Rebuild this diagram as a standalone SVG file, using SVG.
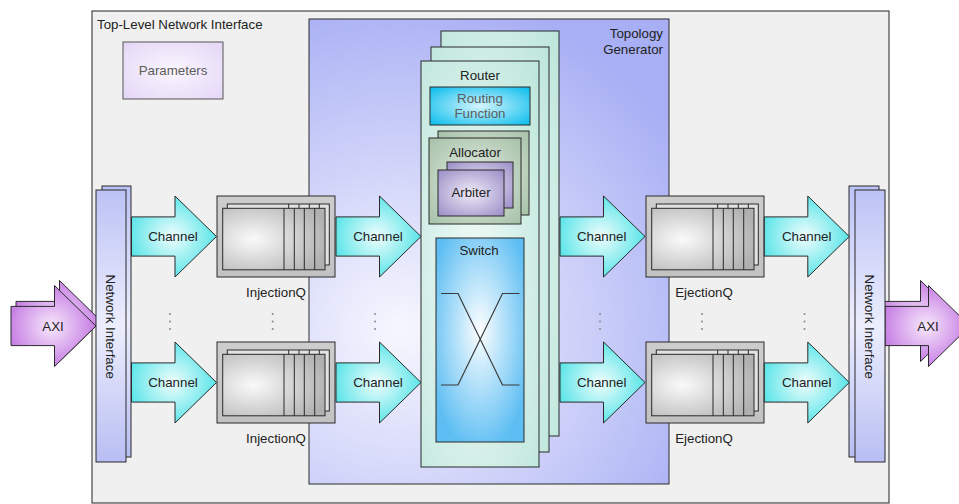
<svg xmlns="http://www.w3.org/2000/svg" xmlns:xlink="http://www.w3.org/1999/xlink" width="959" height="504" viewBox="0 0 959 504">
  <style>
    .lbl { font-family: "Liberation Sans", Arial, sans-serif; font-size: 13.3px; fill: #222; text-anchor: middle; }
    .gray { fill: #5c5c5c; }
    .edge { stroke: #2a2a2a; stroke-width: 1; }
    .dot { fill: #8a8a8a; }
    .xline { fill: none; stroke: #3a3a3a; stroke-width: 1.2; }
  </style>
  <defs>
    <radialGradient id="gParam" cx="0.5" cy="0.5" r="0.7">
      <stop offset="0" stop-color="#faf6fe"/>
      <stop offset="1" stop-color="#e4d6f6"/>
    </radialGradient>
    <radialGradient id="gTopo" gradientUnits="userSpaceOnUse" cx="400" cy="330" r="340">
      <stop offset="0" stop-color="#f7f7fe"/>
      <stop offset="1" stop-color="#a8aff4"/>
    </radialGradient>
    <radialGradient id="gRouter" cx="0.45" cy="0.55" r="0.8">
      <stop offset="0" stop-color="#f2fbf8"/>
      <stop offset="1" stop-color="#bbe5da"/>
    </radialGradient>
    <radialGradient id="gRF" cx="0.5" cy="0.5" r="0.65">
      <stop offset="0" stop-color="#d4f4fc"/>
      <stop offset="1" stop-color="#14c0ee"/>
    </radialGradient>
    <radialGradient id="gAlloc" cx="0.5" cy="0.5" r="0.7">
      <stop offset="0" stop-color="#e4ede4"/>
      <stop offset="1" stop-color="#a6c1a8"/>
    </radialGradient>
    <radialGradient id="gArb" cx="0.5" cy="0.5" r="0.7">
      <stop offset="0" stop-color="#eeebf7"/>
      <stop offset="1" stop-color="#998dc6"/>
    </radialGradient>
    <radialGradient id="gSwitch" cx="0.5" cy="0.45" r="0.6">
      <stop offset="0" stop-color="#fcfeff"/>
      <stop offset="1" stop-color="#5ebef3"/>
    </radialGradient>
    <radialGradient id="gChan" cx="0.48" cy="0.5" r="0.6">
      <stop offset="0" stop-color="#f0fdfd"/>
      <stop offset="1" stop-color="#43e1e5"/>
    </radialGradient>
    <radialGradient id="gAxi" cx="0.48" cy="0.5" r="0.6">
      <stop offset="0" stop-color="#f7e8fc"/>
      <stop offset="1" stop-color="#bd6bdf"/>
    </radialGradient>
    <linearGradient id="gNI" x1="0" y1="0" x2="0" y2="1">
      <stop offset="0" stop-color="#bcc2f5"/>
      <stop offset="0.5" stop-color="#eceefd"/>
      <stop offset="1" stop-color="#b8bef3"/>
    </linearGradient>
    <radialGradient id="gQFront" cx="0.3" cy="0.5" r="0.75">
      <stop offset="0" stop-color="#fafafa"/>
      <stop offset="1" stop-color="#b0b0b0"/>
    </radialGradient>
    <linearGradient id="gQOuter" x1="0" y1="0" x2="0" y2="1">
      <stop offset="0" stop-color="#cdcdcd"/>
      <stop offset="1" stop-color="#c2c2c2"/>
    </linearGradient>

    <!-- block arrow: body 0..43.5, head to 85, centred on y=0 -->
    <path id="blockArrow" d="M0,-19.6 H43.5 V-40.5 L85,0 L43.5,40.5 V19.6 H0 Z"/>

    <!-- queue buffer symbol, origin at outer top-left -->
    <g id="queue">
      <rect x="0" y="0" width="118" height="81" fill="url(#gQOuter)" class="edge"/>
      <rect x="10.3" y="8" width="102" height="61" fill="#e2e2e2" class="edge"/>
      <path d="M71.7,8 V20 M82,8 V20 M92.3,8 V20 M102.3,8 V20" class="edge" fill="none"/>
      <rect x="5.7" y="12.3" width="102.3" height="61.5" fill="url(#gQFront)" class="edge"/>
      <path d="M67,12.3 V73.8 M77.3,12.3 V73.8 M87.3,12.3 V73.8 M97.7,12.3 V73.8" class="edge" fill="none"/>
    </g>
  </defs>

  <!-- enclosing network interface frame -->
  <g id="top-level">
    <rect x="92" y="11" width="797" height="492" fill="#f0f0f0" stroke="#222" stroke-width="1"/>
    <text class="lbl" x="97" y="29" style="text-anchor:start">Top-Level Network Interface</text>
  </g>

  <g id="parameters">
    <rect x="123" y="42" width="100" height="57" fill="url(#gParam)" stroke="#555" stroke-width="1"/>
    <text class="lbl gray" x="173" y="75">Parameters</text>
  </g>

  <g id="topology-generator">
    <rect x="309" y="19" width="360" height="465" fill="url(#gTopo)" class="edge"/>
    <text class="lbl" x="663" y="38" style="text-anchor:end">Topology</text>
    <text class="lbl" x="663" y="54" style="text-anchor:end">Generator</text>
  </g>

  <g id="router">
    <rect x="441" y="31" width="118" height="405" fill="url(#gRouter)" class="edge"/>
    <rect x="431" y="47" width="118" height="405" fill="url(#gRouter)" class="edge"/>
    <rect x="421" y="61" width="118" height="406" fill="url(#gRouter)" class="edge"/>
    <text class="lbl" x="480" y="80">Router</text>
  </g>

  <g id="routing-function">
    <rect x="430" y="87" width="100" height="38" fill="url(#gRF)" class="edge"/>
    <text class="lbl gray" x="480" y="103">Routing</text>
    <text class="lbl gray" x="480" y="118">Function</text>
  </g>

  <g id="allocator">
    <rect x="438" y="131" width="91" height="84" fill="url(#gAlloc)" class="edge"/>
    <rect x="429" y="138" width="92" height="86" fill="url(#gAlloc)" class="edge"/>
    <text class="lbl" x="475" y="157">Allocator</text>
  </g>

  <g id="arbiter">
    <rect x="447" y="162" width="66" height="46" fill="url(#gArb)" class="edge"/>
    <rect x="438" y="170" width="66" height="46" fill="url(#gArb)" class="edge"/>
    <text class="lbl" x="471" y="197">Arbiter</text>
  </g>

  <g id="switch">
    <rect x="436" y="238" width="88" height="204" fill="url(#gSwitch)" class="edge"/>
    <text class="lbl" x="479" y="255">Switch</text>
    <path class="xline" d="M441,293.5 H458 L502.5,385 H519.5"/>
    <path class="xline" d="M441,385 H458 L502.5,293.5 H519.5"/>
  </g>

  <!-- AXI ports (drawn under the network interface blocks) -->
  <g id="axi-in">
    <use xlink:href="#blockArrow" href="#blockArrow" transform="translate(16,321)" fill="url(#gAxi)" class="edge"/>
    <use xlink:href="#blockArrow" href="#blockArrow" transform="translate(11,326)" fill="url(#gAxi)" class="edge"/>
    <text class="lbl" x="53" y="331">AXI</text>
  </g>
  <g id="axi-out">
    <use xlink:href="#blockArrow" href="#blockArrow" transform="translate(877,321)" fill="url(#gAxi)" class="edge"/>
    <use xlink:href="#blockArrow" href="#blockArrow" transform="translate(885,326)" fill="url(#gAxi)" class="edge"/>
    <text class="lbl" x="928" y="331">AXI</text>
  </g>

  <g id="ni-in">
    <rect x="102" y="186" width="29" height="271" fill="url(#gNI)" class="edge"/>
    <rect x="96" y="190" width="30" height="272" fill="url(#gNI)" class="edge"/>
    <text class="lbl" transform="translate(111,326.7) rotate(90)" x="0" y="4.75">Network Interface</text>
  </g>
  <g id="ni-out">
    <rect x="849" y="186" width="30" height="271" fill="url(#gNI)" class="edge"/>
    <rect x="855" y="190" width="30" height="272" fill="url(#gNI)" class="edge"/>
    <text class="lbl" transform="translate(870,326.7) rotate(90)" x="0" y="4.75">Network Interface</text>
  </g>

  <!-- buffers -->
  <g id="injection-q-0">
    <use xlink:href="#queue" href="#queue" x="217" y="196"/>
    <text class="lbl" x="276" y="297">InjectionQ</text>
  </g>
  <g id="injection-q-n">
    <use xlink:href="#queue" href="#queue" x="217" y="342"/>
    <text class="lbl" x="276" y="443">InjectionQ</text>
  </g>
  <g id="ejection-q-0">
    <use xlink:href="#queue" href="#queue" x="646" y="196"/>
    <text class="lbl" x="704" y="297">EjectionQ</text>
  </g>
  <g id="ejection-q-n">
    <use xlink:href="#queue" href="#queue" x="646" y="342"/>
    <text class="lbl" x="704" y="443">EjectionQ</text>
  </g>

  <!-- channels -->
  <g id="connectors">
    <g id="ch-ni-iq-0">
      <use xlink:href="#blockArrow" href="#blockArrow" transform="translate(131.5,236.5)" fill="url(#gChan)" class="edge"/>
      <text class="lbl" x="173" y="241.3">Channel</text>
    </g>
    <g id="ch-ni-iq-n">
      <use xlink:href="#blockArrow" href="#blockArrow" transform="translate(131.5,382.5)" fill="url(#gChan)" class="edge"/>
      <text class="lbl" x="173" y="387.3">Channel</text>
    </g>
    <g id="ch-iq-router-0">
      <use xlink:href="#blockArrow" href="#blockArrow" transform="translate(336,236.5)" fill="url(#gChan)" class="edge"/>
      <text class="lbl" x="378" y="241.3">Channel</text>
    </g>
    <g id="ch-iq-router-n">
      <use xlink:href="#blockArrow" href="#blockArrow" transform="translate(336,382.5)" fill="url(#gChan)" class="edge"/>
      <text class="lbl" x="378" y="387.3">Channel</text>
    </g>
    <g id="ch-router-eq-0">
      <use xlink:href="#blockArrow" href="#blockArrow" transform="translate(560,236.5)" fill="url(#gChan)" class="edge"/>
      <text class="lbl" x="601.7" y="241.3">Channel</text>
    </g>
    <g id="ch-router-eq-n">
      <use xlink:href="#blockArrow" href="#blockArrow" transform="translate(560,382.5)" fill="url(#gChan)" class="edge"/>
      <text class="lbl" x="601.7" y="387.3">Channel</text>
    </g>
    <g id="ch-eq-ni-0">
      <use xlink:href="#blockArrow" href="#blockArrow" transform="translate(764.3,236.5)" fill="url(#gChan)" class="edge"/>
      <text class="lbl" x="806.7" y="241.3">Channel</text>
    </g>
    <g id="ch-eq-ni-n">
      <use xlink:href="#blockArrow" href="#blockArrow" transform="translate(764.3,382.5)" fill="url(#gChan)" class="edge"/>
      <text class="lbl" x="806.7" y="387.3">Channel</text>
    </g>
  </g>

  <!-- vertical ellipses between the first and last lanes -->
  <g id="ellipses">
    <circle class="dot" cx="170" cy="314" r="1"/><circle class="dot" cx="170" cy="321.5" r="1"/><circle class="dot" cx="170" cy="329" r="1"/>
    <circle class="dot" cx="272.7" cy="314" r="1"/><circle class="dot" cx="272.7" cy="321.5" r="1"/><circle class="dot" cx="272.7" cy="329" r="1"/>
    <circle class="dot" cx="375" cy="314" r="1"/><circle class="dot" cx="375" cy="321.5" r="1"/><circle class="dot" cx="375" cy="329" r="1"/>
    <circle class="dot" cx="600" cy="314" r="1"/><circle class="dot" cx="600" cy="321.5" r="1"/><circle class="dot" cx="600" cy="329" r="1"/>
    <circle class="dot" cx="702" cy="314" r="1"/><circle class="dot" cx="702" cy="321.5" r="1"/><circle class="dot" cx="702" cy="329" r="1"/>
    <circle class="dot" cx="804.5" cy="314" r="1"/><circle class="dot" cx="804.5" cy="321.5" r="1"/><circle class="dot" cx="804.5" cy="329" r="1"/>
  </g>
</svg>
